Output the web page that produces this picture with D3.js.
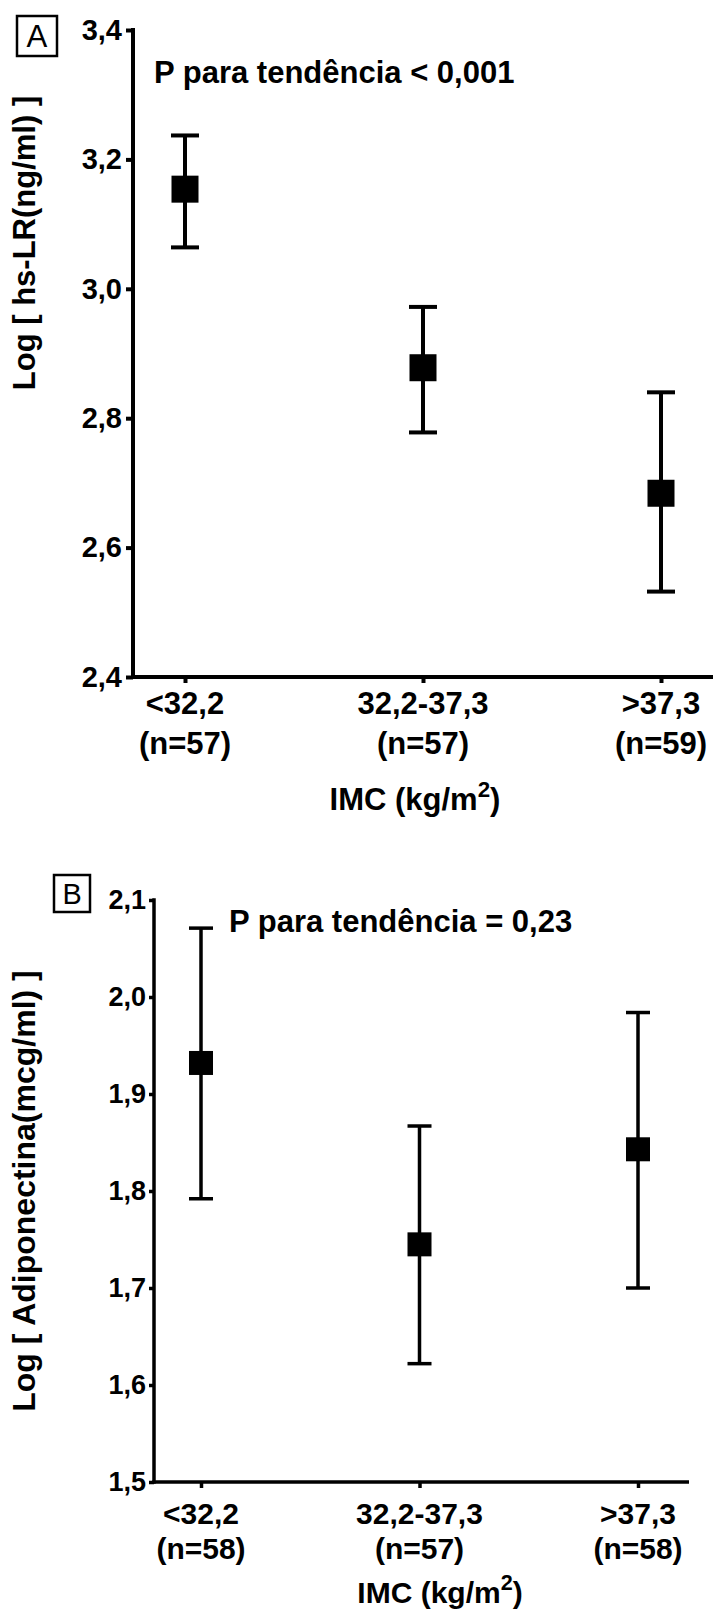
<!DOCTYPE html>
<html lang="en">
<head>
  <meta charset="UTF-8" />
  <title>IMC panels</title>
  <script src="https://d3js.org/d3.v7.min.js" charset="utf-8"></script>
  <style>
    body { margin: 0; background: #fff; }
    text { font-family: "Liberation Sans", Arial, sans-serif; font-weight: bold; fill: #000; }
  </style>
</head>
<body>
<script type="text/javascript">

const WIDTH = 713;
const HEIGHT = 1613;

// Panel A: hs-LR by BMI tertile
const catsA = ["<32,2", "32,2-37,3", ">37,3"];
const nA = ["(n=57)", "(n=57)", "(n=59)"];
const meanA = [3.154, 2.878, 2.684];
const highA = [3.237, 2.972, 2.840];
const lowA = [3.064, 2.778, 2.532];
const ticksA = [2.4, 2.6, 2.8, 3.0, 3.2, 3.4];

// Panel B: adiponectin by BMI tertile
const catsB = ["<32,2", "32,2-37,3", ">37,3"];
const nB = ["(n=58)", "(n=57)", "(n=58)"];
const meanB = [1.932, 1.745, 1.843];
const highB = [2.071, 1.867, 1.984];
const lowB = [1.792, 1.622, 1.700];
const ticksB = [1.5, 1.6, 1.7, 1.8, 1.9, 2.0, 2.1];

const br = d3.formatLocale({decimal: ",", thousands: ".", grouping: [3], currency: ["", ""]});
const fmt = br.format(".1f");

const svg = d3.select("body")
  .append("svg")
    .attr("width", WIDTH)
    .attr("height", HEIGHT);

svg.append("rect").attr("width", WIDTH).attr("height", HEIGHT).attr("fill", "#fff");

function drawPanel(p) {
  const g = svg.append("g");

  const y = d3.scaleLinear().domain(d3.extent(p.ticks)).range([p.bottom, p.top]);
  const x = d3.scalePoint().domain(p.cats).range(p.xr);

  // y axis
  g.append("g")
      .attr("transform", `translate(${p.left},0)`)
      .call(d3.axisLeft(y).tickValues(p.ticks).tickFormat(fmt)
        .tickSize(p.tick).tickPadding(p.pad).tickSizeOuter(0))
      .call(a => a.select(".domain").remove())
      .call(a => a.selectAll(".tick line").attr("stroke", "#000").attr("stroke-width", p.sw))
      .call(a => a.selectAll(".tick text")
        .attr("font-size", p.tickFont)
        .attr("font-family", "Liberation Sans, Arial, sans-serif")
        .attr("font-weight", "bold")
        .attr("fill", "#000"));
  g.append("line")
      .attr("x1", p.left).attr("x2", p.left)
      .attr("y1", p.top - p.sw / 2).attr("y2", p.bottom + p.sw / 2)
      .attr("stroke", "#000").attr("stroke-width", p.sw);

  // x axis
  g.append("g")
      .attr("transform", `translate(0,${p.bottom})`)
      .call(d3.axisBottom(x).tickSize(6).tickSizeOuter(0).tickFormat(""))
      .call(a => a.select(".domain").remove())
      .call(a => a.selectAll(".tick line").attr("stroke", "#000").attr("stroke-width", p.sw));
  g.append("line")
      .attr("x1", p.left - p.sw / 2).attr("x2", p.right)
      .attr("y1", p.bottom).attr("y2", p.bottom)
      .attr("stroke", "#000").attr("stroke-width", p.sw);

  // category labels, two lines
  const lab = g.append("g").selectAll("text")
    .data(p.cats)
    .join("text")
      .attr("text-anchor", "middle")
      .attr("font-size", p.catFont);
  lab.append("tspan")
      .attr("x", d => x(d))
      .attr("y", p.line1)
      .text(d => d);
  lab.append("tspan")
      .attr("x", d => x(d))
      .attr("y", p.line2)
      .text((d, i) => p.n[i]);

  // x title with superscript
  const xt = g.append("text")
      .attr("x", p.xTitle[0]).attr("y", p.xTitle[1])
      .attr("text-anchor", "middle")
      .attr("font-size", p.catFont);
  xt.append("tspan").text("IMC (kg/m");
  xt.append("tspan").attr("font-size", p.catFont * 0.72).attr("dy", -p.catFont * 0.42).text("2");
  xt.append("tspan").attr("dy", p.catFont * 0.42).text(")");

  // y title
  g.append("text")
      .attr("transform", `translate(${p.yTitle[0]},${p.yTitle[1]}) rotate(-90)`)
      .attr("text-anchor", "middle")
      .attr("font-size", p.yFont)
      .text(p.yLabel);

  // p value note
  g.append("text")
      .attr("x", p.note[0]).attr("y", p.note[1])
      .attr("font-size", p.noteFont)
      .text(p.noteText);

  // panel letter
  g.append("rect")
      .attr("x", p.box[0]).attr("y", p.box[1])
      .attr("width", p.box[2]).attr("height", p.box[3])
      .attr("fill", "none").attr("stroke", "#000").attr("stroke-width", 2.5);
  g.append("text")
      .attr("x", p.box[0] + p.box[2] / 2)
      .attr("y", p.box[1] + p.box[3] / 2)
      .attr("dy", "0.36em")
      .attr("text-anchor", "middle")
      .style("font-weight", "normal")
      .attr("font-size", p.box[3] * 0.78)
      .text(p.letter);

  // error bars
  const rows = p.cats.map((c, i) => ({c, m: p.mean[i], lo: p.low[i], hi: p.high[i]}));
  const eb = g.append("g").selectAll("g").data(rows).join("g");
  eb.append("line")
      .attr("x1", d => x(d.c)).attr("x2", d => x(d.c))
      .attr("y1", d => y(d.hi)).attr("y2", d => y(d.lo))
      .attr("stroke", "#000").attr("stroke-width", p.sw);
  eb.append("line")
      .attr("x1", d => x(d.c) - p.cap / 2).attr("x2", d => x(d.c) + p.cap / 2)
      .attr("y1", d => y(d.hi)).attr("y2", d => y(d.hi))
      .attr("stroke", "#000").attr("stroke-width", p.sw);
  eb.append("line")
      .attr("x1", d => x(d.c) - p.cap / 2).attr("x2", d => x(d.c) + p.cap / 2)
      .attr("y1", d => y(d.lo)).attr("y2", d => y(d.lo))
      .attr("stroke", "#000").attr("stroke-width", p.sw);
  eb.append("rect")
      .attr("x", d => x(d.c) - p.sq / 2)
      .attr("y", d => y(d.m) - p.sq / 2)
      .attr("width", p.sq).attr("height", p.sq)
      .attr("fill", "#000");
}

drawPanel({
  cats: catsA, n: nA, mean: meanA, high: highA, low: lowA, ticks: ticksA,
  left: 133, right: 713, top: 30, bottom: 677, xr: [185, 661],
  tick: 7, pad: 4, tickFont: 29, catFont: 31, line1: 714, line2: 754,
  xTitle: [415, 810], yTitle: [35, 243], yFont: 31,
  yLabel: "Log [ hs-LR(ng/ml) ]",
  note: [154, 83], noteFont: 31, noteText: "P para tendência < 0,001",
  box: [17, 16, 40, 40], letter: "A", cap: 28, sq: 27, sw: 4
});

drawPanel({
  cats: catsB, n: nB, mean: meanB, high: highB, low: lowB, ticks: ticksB,
  left: 154, right: 689, top: 900, bottom: 1482, xr: [201, 638],
  tick: 5, pad: 3, tickFont: 27, catFont: 30, line1: 1524, line2: 1559,
  xTitle: [440, 1603], yTitle: [35, 1191], yFont: 32,
  yLabel: "Log [ Adiponectina(mcg/ml) ]",
  note: [229, 932], noteFont: 31, noteText: "P para tendência = 0,23",
  box: [54, 875, 36, 37], letter: "B", cap: 24, sq: 24, sw: 3.5
});

</script>
</body>
</html>
